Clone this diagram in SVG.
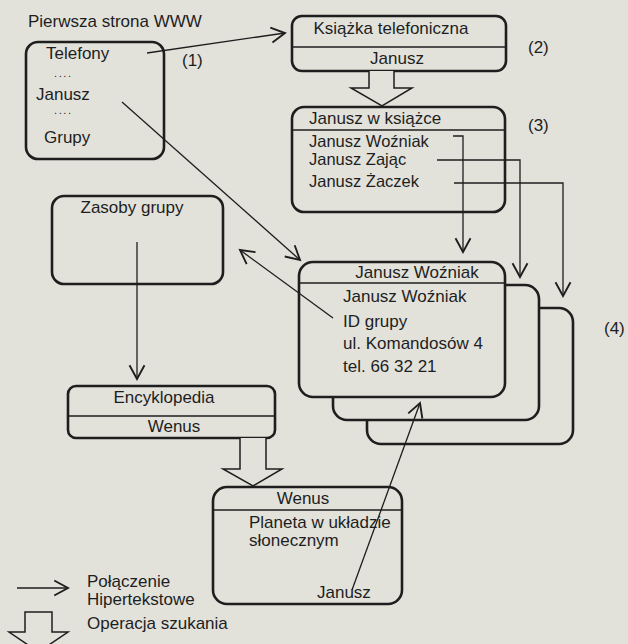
<svg xmlns="http://www.w3.org/2000/svg" width="628" height="644" viewBox="0 0 628 644">
<defs>
<style>
.bg{fill:#e2e2db}
.box{fill:#e2e2db;stroke:#1e1e1e;stroke-width:2.6}
.div{stroke:#1e1e1e;stroke-width:1.6}
.t{font-family:"Liberation Sans",Arial,sans-serif;font-size:17px;fill:#1e1e1e}
.s{font-size:16.5px}
.d{font-size:11px;letter-spacing:1.6px}
.m{text-anchor:middle}
.c{fill:none;stroke:#1e1e1e;stroke-width:1.3}
.h{fill:#e2e2db;stroke:#1e1e1e;stroke-width:1.5;stroke-linejoin:miter}
</style>
<marker id="a" markerUnits="userSpaceOnUse" markerWidth="20" markerHeight="20" viewBox="-12 -8 14 16" refX="0" refY="0" orient="auto">
<path d="M-11,-6 L0,0 L-11,6" fill="none" stroke="#1e1e1e" stroke-width="1.5"/>
</marker>
</defs>
<rect class="bg" x="0" y="0" width="628" height="644"/>

<text class="t" x="28" y="27">Pierwsza strona WWW</text>

<g id="n1">
<rect class="box" x="26" y="42" width="138" height="117" rx="12"/>
<text class="t" x="46" y="59">Telefony</text>
<text class="t d" x="54" y="77">....</text>
<text class="t" x="36" y="100">Janusz</text>
<text class="t d" x="54" y="114">....</text>
<text class="t" x="44" y="143">Grupy</text>
</g>

<g id="n2">
<rect class="box" x="292" y="16" width="214" height="55" rx="10"/>
<line class="div" x1="292" y1="47" x2="506" y2="47"/>
<text class="t m" x="391" y="34">Książka telefoniczna</text>
<text class="t m" x="397" y="64">Janusz</text>
</g>

<g id="n3">
<rect class="box" x="292" y="107" width="213" height="105" rx="12"/>
<line class="div" x1="292" y1="130" x2="505" y2="130"/>
<text class="t" x="309" y="124">Janusz w książce</text>
<text class="t s" x="309" y="146.5">Janusz Woźniak</text>
<text class="t s" x="309" y="164.5">Janusz Zając</text>
<text class="t s" x="309" y="187">Janusz Żaczek</text>
</g>

<g id="n4">
<rect class="box" x="367" y="308" width="206" height="136" rx="14"/>
<rect class="box" x="333" y="285" width="206" height="135" rx="14"/>
<rect class="box" x="299" y="262" width="206" height="135" rx="14"/>
<line class="div" x1="299" y1="283" x2="505" y2="283"/>
<text class="t m" x="417" y="278">Janusz Woźniak</text>
<text class="t" x="343" y="302">Janusz Woźniak</text>
<text class="t" x="343" y="327">ID grupy</text>
<text class="t" x="343" y="349">ul. Komandosów 4</text>
<text class="t" x="343" y="372">tel. 66 32 21</text>
</g>

<g id="n5">
<rect class="box" x="52" y="196" width="171" height="88" rx="12"/>
<text class="t m" x="132" y="213">Zasoby grupy</text>
</g>

<g id="n6">
<rect class="box" x="68" y="386" width="207" height="52" rx="8"/>
<line class="div" x1="68" y1="416" x2="275" y2="416"/>
<text class="t m" x="164" y="403">Encyklopedia</text>
<text class="t m" x="174" y="432">Wenus</text>
</g>

<g id="n7">
<rect class="box" x="213" y="487" width="189" height="117" rx="14"/>
<line class="div" x1="213" y1="510" x2="402" y2="510"/>
<text class="t m" x="303" y="504">Wenus</text>
<text class="t" x="249" y="528">Planeta w układzie</text>
<text class="t" x="249" y="546">słonecznym</text>
<text class="t" x="317" y="598">Janusz</text>
</g>

<g id="labels">
<text class="t" x="182" y="66">(1)</text>
<text class="t" x="528" y="53">(2)</text>
<text class="t" x="528" y="131">(3)</text>
<text class="t" x="604" y="334">(4)</text>
</g>

<g id="connectors">
<line class="c" x1="147" y1="53" x2="285" y2="33" marker-end="url(#a)"/>
<polyline class="c" points="453,136 463,136 463,252" marker-end="url(#a)"/>
<polyline class="c" points="437,160 520,160 520,277" marker-end="url(#a)"/>
<polyline class="c" points="454,183 563,183 563,296" marker-end="url(#a)"/>
<line class="c" x1="122" y1="102" x2="300" y2="260" marker-end="url(#a)"/>
<line class="c" x1="333" y1="318" x2="240" y2="250" marker-end="url(#a)"/>
<line class="c" x1="137" y1="242" x2="137" y2="379" marker-end="url(#a)"/>
<line class="c" x1="352" y1="590" x2="420" y2="403" marker-end="url(#a)"/>
<path class="h" d="M369,71 L369,88 L351,88 L382,106 L412,88 L394,88 L394,71"/>
<path class="h" d="M240,438 L240,469 L223,469 L253,486 L282,469 L266,469 L266,438"/>
</g>

<g id="legend">
<line class="c" x1="17" y1="588" x2="68" y2="588" marker-end="url(#a)"/>
<text class="t" x="87" y="587">Połączenie</text>
<text class="t" x="87" y="605">Hipertekstowe</text>
<path class="h" d="M25,612 L52,612 L52,632 L68,632 L38.5,652 L9,632 L25,632 Z"/>
<text class="t" x="87" y="629">Operacja szukania</text>
</g>
</svg>
